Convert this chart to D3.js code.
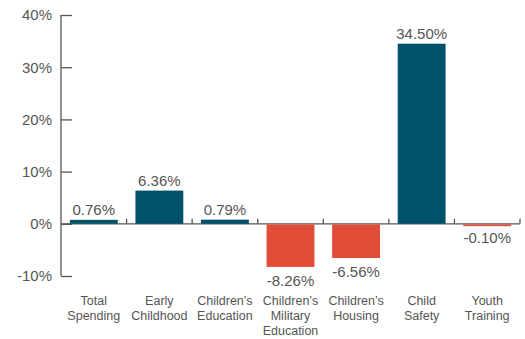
<!DOCTYPE html>
<html><head><meta charset="utf-8">
<script src="https://cdn.jsdelivr.net/npm/d3@7"></script>
<style>
html,body{margin:0;padding:0;background:#fff;}
svg{display:block;font-family:"Liberation Sans",Arial,sans-serif;}
</style></head>
<body>
<svg id="chart" width="525" height="339"></svg>
<script>
const categories = [["Total","Spending"],["Early","Childhood"],["Children\u2019s","Education"],["Children\u2019s","Military","Education"],["Children\u2019s","Housing"],["Child","Safety"],["Youth","Training"]];
const values = [0.76, 6.36, 0.79, -8.26, -6.56, 34.50, -0.10];
const yTicks = [-10, 0, 10, 20, 30, 40];

const svg = d3.select("#chart");
const x0 = 61, x1 = 520;
const x = d3.scaleBand().domain(d3.range(values.length)).range([x0, x1]).paddingInner(0.27).paddingOuter(0.135);
const y = d3.scaleLinear().domain([-10, 40]).range([276, 15]);
const grey = "#555";
const pos = "#00526a", neg = "#e24d37";

// y axis
const ya = svg.append("g").attr("transform", `translate(${x0},0)`)
  .call(d3.axisRight(y).tickValues(yTicks).tickSize(11).tickFormat(()=>""));
ya.select(".domain").remove();
ya.selectAll("line").attr("stroke", grey).attr("stroke-width", 1.3);
svg.append("line").attr("x1", x0).attr("x2", x0).attr("y1", y(40)).attr("y2", y(-10)).attr("stroke", grey).attr("stroke-width", 1.3);
svg.append("g").selectAll("text").data(yTicks).join("text")
  .attr("x", 52).attr("y", d => y(d)).attr("dy", "0.36em").attr("text-anchor", "end")
  .attr("font-size", 15).attr("fill", grey).text(d => d + "%");

// zero axis
svg.append("line").attr("x1", x0).attr("x2", x1).attr("y1", y(0)).attr("y2", y(0)).attr("stroke", grey).attr("stroke-width", 1.3);
svg.append("g").selectAll("line").data(d3.range(1, values.length + 1)).join("line")
  .attr("x1", i => x0 + i * (x1 - x0) / values.length).attr("x2", i => x0 + i * (x1 - x0) / values.length)
  .attr("y1", y(0)).attr("y2", y(0) - 5).attr("stroke", grey).attr("stroke-width", 1.3);

// bars
svg.append("g").selectAll("rect").data(values).join("rect")
  .attr("x", (d,i) => x(i)).attr("width", x.bandwidth())
  .attr("y", d => d >= 0 ? y(d) : y(0) + 0.6)
  .attr("height", d => d >= 0 ? y(0) - y(d) : Math.max(y(d) - y(0) - 0.6, 1.8))
  .attr("fill", d => d >= 0 ? pos : neg);

// value labels
svg.append("g").selectAll("text").data(values).join("text")
  .attr("x", (d,i) => x(i) + x.bandwidth()/2)
  .attr("y", d => d >= 0 ? y(d) - 5 : y(d) + 19)
  .attr("text-anchor", "middle").attr("font-size", 15).attr("fill", grey)
  .text(d => d.toFixed(2) + "%");

// category labels
const cg = svg.append("g").selectAll("text").data(categories).join("text")
  .attr("x", (d,i) => x(i) + x.bandwidth()/2).attr("y", 305)
  .attr("text-anchor", "middle").attr("font-size", 12.5).attr("fill", grey);
cg.selectAll("tspan").data(d => d).join("tspan")
  .attr("x", function(){ return this.parentNode.getAttribute("x"); })
  .attr("dy", (d,j) => j === 0 ? 0 : 15).text(d => d);
</script>
</body></html>
